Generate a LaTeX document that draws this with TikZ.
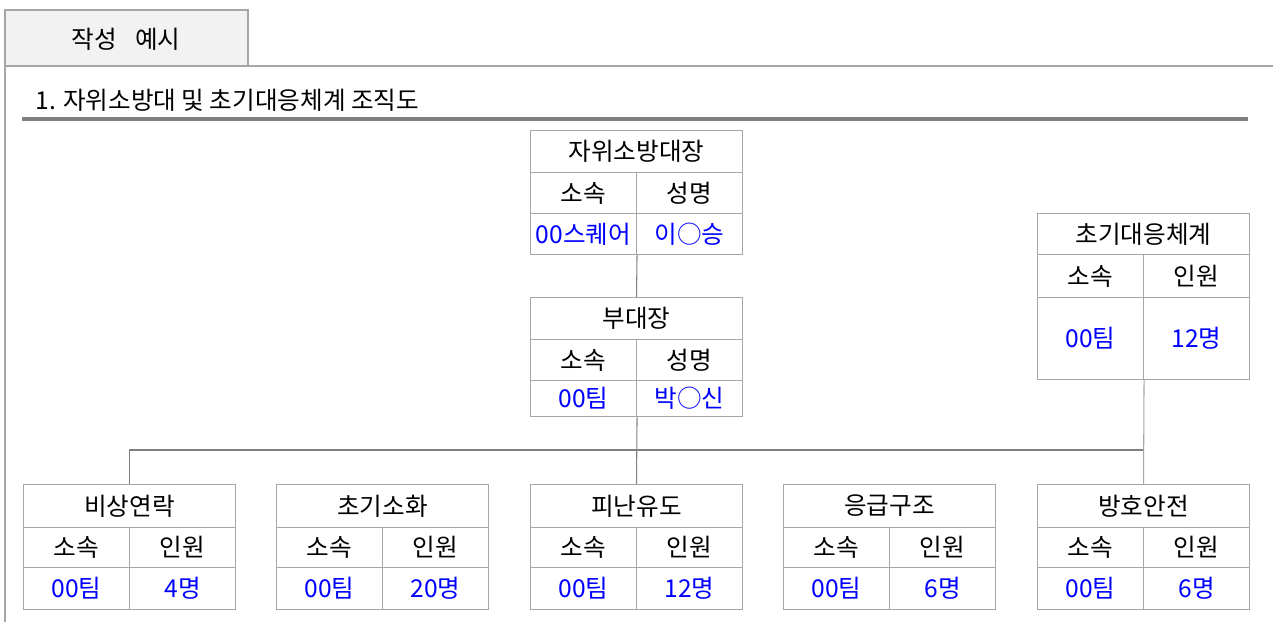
\documentclass[tikz,border=0pt]{standalone}
\usepackage{fontspec}
\setmainfont{Noto Sans CJK KR}
\usepackage{tikz}

\definecolor{framegray}{HTML}{A6A6A6}
\definecolor{linegray}{HTML}{808080}
\definecolor{tabfill}{HTML}{F2F2F2}
\definecolor{valblue}{HTML}{0000FF}

\tikzset{
  cell/.style={draw=framegray, line width=0.6pt, anchor=north west, inner sep=0pt,
    minimum width=2.12cm, font=\fontsize{14}{16}\selectfont},
  headcell/.style={cell, minimum width=4.24cm},
  valcell/.style={cell, text=valblue},
  link/.style={draw=linegray, line width=0.6pt}
}

\begin{document}
\begin{tikzpicture}[x=0.02cm, y=-0.02cm]
        \useasboundingbox (0,0) rectangle (1273,622);

        % tab and frame
        \draw[framegray, line width=0.6pt, fill=tabfill] (5,10) rectangle (248,66);
        \node (tab) at (126,39) {\fontsize{14}{16}\selectfont 작성\hspace{0.75em}예시};
        \draw[framegray, line width=0.6pt] (5,66) -- (1273,66);
        \draw[framegray, line width=0.6pt] (5,66) -- (5,622);

        % heading
        \node[anchor=west, inner sep=0pt] (heading) at (35,100) {\fontsize{14}{16}\selectfont 1. 자위소방대 및 초기대응체계 조직도};
        \draw[linegray, line width=2.3pt] (22,119) -- (1248,119);

        % captain
        \node[headcell, minimum height=0.84cm] (captitle) at (530,130) {자위소방대장};
        \node[cell, minimum height=0.82cm] (capunithd) at (530,172) {소속};
        \node[cell, minimum height=0.82cm] (capnamehd) at (636,172) {성명};
        \node[valcell, minimum height=0.82cm] (capunit) at (530,213) {00스퀘어};
        \node[valcell, minimum height=0.82cm] (capname) at (636,213) {이○승};

        % vice captain
        \node[headcell, minimum height=0.84cm] (vicetitle) at (530,297) {부대장};
        \node[cell, minimum height=0.82cm] (viceunithd) at (530,339) {소속};
        \node[cell, minimum height=0.82cm] (vicenamehd) at (636,339) {성명};
        \node[valcell, minimum height=0.72cm] (viceunit) at (530,380) {00팀};
        \node[valcell, minimum height=0.72cm] (vicename) at (636,380) {박○신};

        % initial response
        \node[headcell, minimum height=0.82cm] (resptitle) at (1037,213) {초기대응체계};
        \node[cell, minimum height=0.86cm] (respunithd) at (1037,254) {소속};
        \node[cell, minimum height=0.86cm] (respcounthd) at (1143,254) {인원};
        \node[valcell, minimum height=1.64cm] (respunit) at (1037,297) {00팀};
        \node[valcell, minimum height=1.64cm] (respcount) at (1143,297) {12명};

        % teams
        \node[headcell, minimum height=0.86cm] (calltitle) at (23,484) {비상연락};
        \node[cell, minimum height=0.80cm] (callunithd) at (23,527) {소속};
        \node[cell, minimum height=0.80cm] (callcounthd) at (129,527) {인원};
        \node[valcell, minimum height=0.84cm] (callunit) at (23,567) {00팀};
        \node[valcell, minimum height=0.84cm] (callcount) at (129,567) {4명};

        \node[headcell, minimum height=0.86cm] (firetitle) at (276,484) {초기소화};
        \node[cell, minimum height=0.80cm] (fireunithd) at (276,527) {소속};
        \node[cell, minimum height=0.80cm] (firecounthd) at (382,527) {인원};
        \node[valcell, minimum height=0.84cm] (fireunit) at (276,567) {00팀};
        \node[valcell, minimum height=0.84cm] (firecount) at (382,567) {20명};

        \node[headcell, minimum height=0.86cm] (evactitle) at (530,484) {피난유도};
        \node[cell, minimum height=0.80cm] (evacunithd) at (530,527) {소속};
        \node[cell, minimum height=0.80cm] (evaccounthd) at (636,527) {인원};
        \node[valcell, minimum height=0.84cm] (evacunit) at (530,567) {00팀};
        \node[valcell, minimum height=0.84cm] (evaccount) at (636,567) {12명};

        \node[headcell, minimum height=0.86cm] (aidtitle) at (783,484) {응급구조};
        \node[cell, minimum height=0.80cm] (aidunithd) at (783,527) {소속};
        \node[cell, minimum height=0.80cm] (aidcounthd) at (889,527) {인원};
        \node[valcell, minimum height=0.84cm] (aidunit) at (783,567) {00팀};
        \node[valcell, minimum height=0.84cm] (aidcount) at (889,567) {6명};

        \node[headcell, minimum height=0.86cm] (guardtitle) at (1037,484) {방호안전};
        \node[cell, minimum height=0.80cm] (guardunithd) at (1037,527) {소속};
        \node[cell, minimum height=0.80cm] (guardcounthd) at (1143,527) {인원};
        \node[valcell, minimum height=0.84cm] (guardunit) at (1037,567) {00팀};
        \node[valcell, minimum height=0.84cm] (guardcount) at (1143,567) {6명};

        % connectors
        \coordinate (bus) at (0,450);
        \draw[link] (capunit.south east) -- (vicetitle.north);
        \draw[link] (viceunit.south east) -- (evactitle.north);
        \draw[link] (calltitle.north) -- (calltitle.north |- bus) -- (guardtitle.north |- bus);
        \draw[draw=framegray, line width=0.6pt] (respunit.south east) -- (guardtitle.north);
\end{tikzpicture}
\end{document}
